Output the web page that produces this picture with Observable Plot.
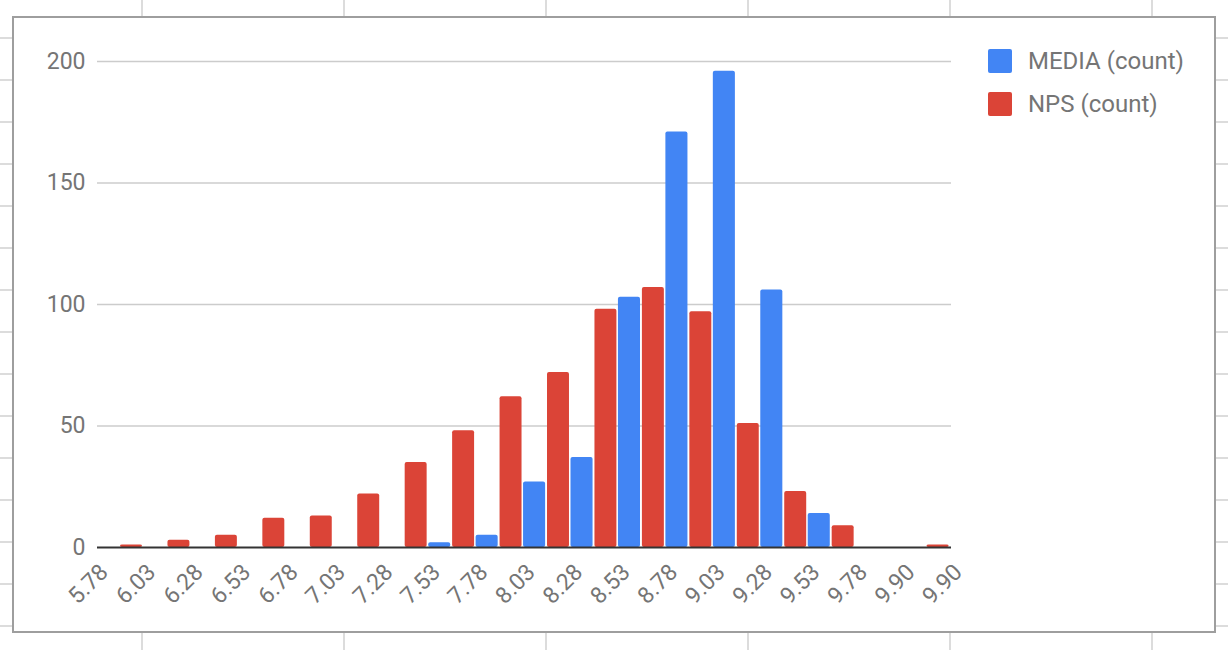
<!DOCTYPE html>
<html>
<head>
<meta charset="utf-8">
<script src="https://cdn.jsdelivr.net/npm/d3@7"></script>
<script src="https://cdn.jsdelivr.net/npm/@observablehq/plot@0.6"></script>
<style>
  html, body { margin: 0; padding: 0; background: #fff; }
  #page { position: relative; width: 1228px; height: 650px; overflow: hidden; font-family: Roboto, "Noto Sans", sans-serif; background: #fff; }
  .vline { position: absolute; top: 0; width: 1.5px; height: 650px; background: #dcdcdc; }
  .hline { position: absolute; left: 0; height: 1.5px; width: 1228px; background: #dcdcdc; }
  #panel { position: absolute; left: 12px; top: 16px; width: 1200px; height: 613px; border: 2px solid #9e9e9e; background: #fff; }
  #chart { position: absolute; left: 0; top: 0; }
  .legend-item { position: absolute; left: 988px; height: 24px; display: flex; align-items: center; }
  .swatch { width: 24px; height: 24px; border-radius: 2px; margin-right: 16px; }
  .legend-label { font-size: 24px; color: #757575; line-height: 24px; white-space: nowrap; }
</style>
</head>
<body>
<div id="page">
  <div id="sheet"></div>
  <div id="panel"></div>
  <div id="chart"></div>
  <div id="legend"></div>
</div>
<script>
// ---- data ----
const boundaryLabels = ["5.78","6.03","6.28","6.53","6.78","7.03","7.28","7.53","7.78","8.03","8.28","8.53","8.78","9.03","9.28","9.53","9.78","9.90","9.90"];
const seriesNames = ["MEDIA (count)", "NPS (count)"];
const mediaCounts = [0, 0, 0, 0, 0, 0, 0, 2, 5, 27, 37, 103, 171, 196, 106, 14, 0, 0];
const npsCounts   = [1, 3, 5, 12, 13, 22, 35, 48, 62, 72, 98, 107, 97, 51, 23, 9, 0, 1];
const yTicks = [0, 50, 100, 150, 200];

// ---- layout / style ----
const seriesColors = ["#4285F4", "#DB4437"];
const slotOffsets = { "MEDIA (count)": [-0.02, 0.445], "NPS (count)": [0.485, 0.948] };
const sheetCols = [141, 343, 545, 747, 949, 1151];
const sheetRows = [37, 79, 121, 163, 205, 247, 289, 331, 373, 415, 457, 499, 541, 583, 625];

const sheet = document.getElementById("sheet");
sheetCols.forEach(x => { const d = document.createElement("div"); d.className = "vline"; d.style.left = x + "px"; sheet.appendChild(d); });
sheetRows.forEach(y => { const d = document.createElement("div"); d.className = "hline"; d.style.top = y + "px"; sheet.appendChild(d); });

const rows = [];
mediaCounts.forEach((c, k) => rows.push({ k, series: seriesNames[0], count: c }));
npsCounts.forEach((c, k) => rows.push({ k, series: seriesNames[1], count: c }));
const bars = rows.filter(d => d.count > 0);
const labelRows = boundaryLabels.map((label, i) => ({ label, i }));

const chart = Plot.plot({
  width: 1228,
  height: 650,
  marginLeft: 97,
  marginRight: 277,
  marginTop: 61,
  marginBottom: 103,
  x: { type: "linear", domain: [0, mediaCounts.length], axis: null },
  y: { domain: [0, 200], axis: null },
  color: { domain: seriesNames, range: seriesColors },
  style: { background: "transparent", fontFamily: "Roboto, sans-serif", color: "#757575", overflow: "visible" },
  marks: [
    Plot.gridY(yTicks.filter(v => v > 0), { stroke: "#cccccc", strokeOpacity: 1, strokeWidth: 1.3 }),
    Plot.axisY(yTicks, { tickSize: 0, tickPadding: 12, fontSize: 23, fill: "#757575", label: null }),
    Plot.rect(bars, {
      x1: d => d.k + slotOffsets[d.series][0],
      x2: d => d.k + slotOffsets[d.series][1],
      y1: () => 0,
      y2: "count",
      fill: "series",
      rx: 2
    }),
    Plot.ruleY([0], { stroke: "#333333", strokeWidth: 2 }),
    Plot.text(labelRows, {
      x: "i", y: () => 0, text: "label",
      rotate: -45, textAnchor: "end", lineAnchor: "bottom",
      dx: 12, dy: 26, fontSize: 23, fill: "#757575"
    })
  ]
});
document.getElementById("chart").appendChild(chart);

const legend = document.getElementById("legend");
seriesNames.forEach((name, i) => {
  const item = document.createElement("div");
  item.className = "legend-item";
  item.style.top = (49 + i * 43) + "px";
  const sw = document.createElement("div");
  sw.className = "swatch";
  sw.style.background = seriesColors[i];
  const lab = document.createElement("div");
  lab.className = "legend-label";
  lab.textContent = name;
  item.appendChild(sw); item.appendChild(lab);
  legend.appendChild(item);
});
</script>
</body>
</html>
